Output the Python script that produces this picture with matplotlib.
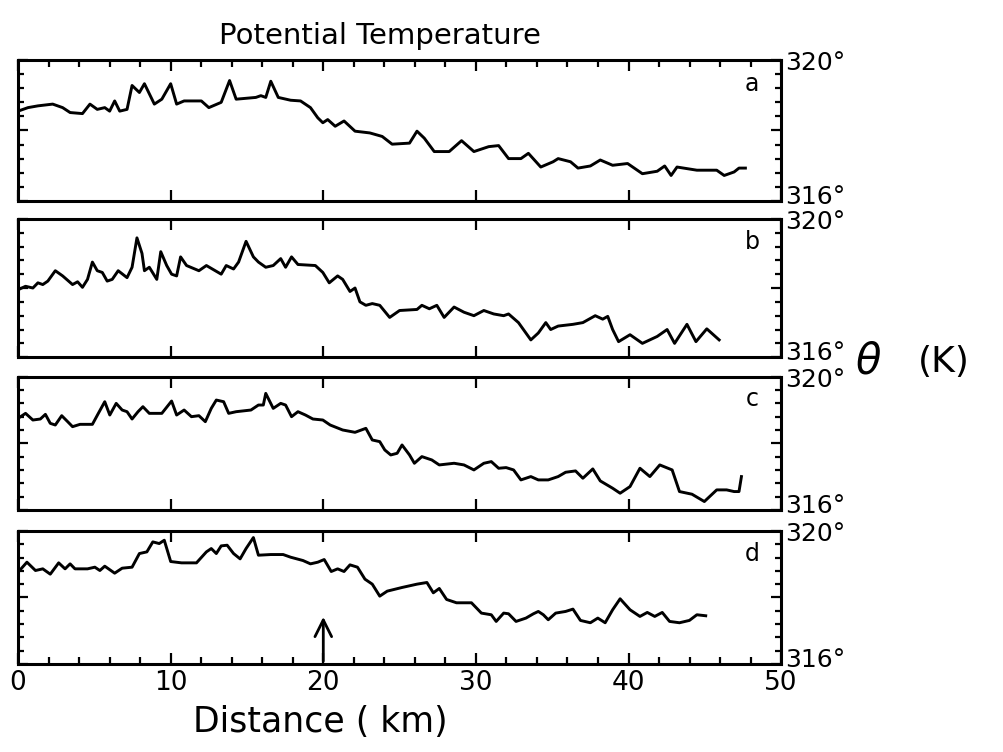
#Potential temperature along four flight legs
import numpy as np
import matplotlib.pyplot as plt
from matplotlib.ticker import MultipleLocator

#distance (km) and potential temperature (K)
km_a = [0.0, 0.65, 1.3, 2.27, 2.92, 3.41, 4.22, 4.71, 5.19, 5.68, 6.0, 6.33, 6.66, 7.14, 7.47, 7.95,
        8.28, 8.93, 9.42, 10.0, 10.39, 10.88, 12.01, 12.5, 13.31, 13.86, 14.29, 15.58, 15.91, 16.23,
        16.56, 17.05, 17.86, 18.51, 19.16, 19.64, 19.97, 20.29, 20.78, 21.36, 22.08, 23.05, 23.86,
        24.51, 25.65, 26.14, 26.62, 27.27, 28.25, 29.06, 29.87, 30.84, 31.49, 32.14, 32.95, 33.44,
        34.25, 35.06, 35.39, 36.2, 36.69, 37.5, 38.15, 38.96, 39.94, 40.91, 41.88, 42.37, 42.79,
        43.18, 44.48, 45.78, 46.27, 46.92, 47.24, 47.66]
theta_a = [318.55, 318.65, 318.70, 318.75, 318.65, 318.51, 318.48, 318.75, 318.60, 318.65, 318.55,
           318.84, 318.55, 318.60, 319.28, 319.08, 319.33, 318.75, 318.89, 319.33, 318.75, 318.84,
           318.84, 318.65, 318.80, 319.42, 318.89, 318.94, 318.99, 318.94, 319.40, 318.94, 318.86,
           318.84, 318.65, 318.36, 318.22, 318.31, 318.12, 318.27, 317.98, 317.93, 317.83, 317.61,
           317.64, 317.98, 317.78, 317.40, 317.40, 317.71, 317.40, 317.54, 317.57, 317.20, 317.20,
           317.35, 316.96, 317.11, 317.20, 317.11, 316.93, 316.99, 317.16, 317.01, 317.06, 316.77,
           316.84, 316.99, 316.72, 316.96, 316.87, 316.87, 316.72, 316.82, 316.93, 316.93]

km_b = [0.0, 0.49, 0.97, 1.30, 1.62, 1.95, 2.44, 2.92, 3.57, 3.90, 4.22, 4.55, 4.87, 5.19, 5.52,
        5.84, 6.17, 6.56, 7.14, 7.47, 7.79, 8.12, 8.28, 8.60, 9.09, 9.35, 9.74, 10.06, 10.39, 10.65,
        11.04, 11.85, 12.34, 13.31, 13.64, 14.12, 14.45, 14.94, 15.42, 15.75, 16.23, 16.72, 17.21,
        17.53, 17.92, 18.34, 19.48, 19.97, 20.39, 20.94, 21.27, 21.75, 22.08, 22.40, 22.79, 23.21,
        23.70, 24.35, 25.00, 26.14, 26.46, 26.95, 27.44, 27.92, 28.57, 29.22, 29.87, 30.52, 31.17,
        31.82, 32.14, 32.79, 33.60, 34.09, 34.58, 34.90, 35.39, 36.36, 37.01, 37.82, 38.31, 38.64,
        38.96, 39.35, 40.10, 40.91, 41.88, 42.53, 43.02, 43.83, 44.42, 45.13, 45.94]
theta_b = [317.95, 318.05, 318.00, 318.15, 318.10, 318.20, 318.50, 318.35, 318.10, 318.18, 318.02,
           318.25, 318.75, 318.50, 318.45, 318.20, 318.25, 318.50, 318.30, 318.60, 319.45, 319.00,
           318.50, 318.60, 318.25, 319.05, 318.65, 318.40, 318.35, 318.90, 318.65, 318.50, 318.65,
           318.40, 318.65, 318.55, 318.75, 319.35, 318.90, 318.75, 318.60, 318.65, 318.85, 318.60,
           318.90, 318.68, 318.65, 318.45, 318.15, 318.35, 318.25, 317.90, 318.00, 317.60, 317.50,
           317.55, 317.50, 317.15, 317.35, 317.38, 317.50, 317.40, 317.50, 317.15, 317.45, 317.30,
           317.20, 317.35, 317.25, 317.20, 317.25, 317.00, 316.50, 316.70, 317.00, 316.80, 316.90,
           316.95, 317.00, 317.20, 317.10, 317.18, 316.80, 316.45, 316.65, 316.40, 316.60, 316.80,
           316.40, 316.95, 316.45, 316.82, 316.50]

km_c = [0.0, 0.49, 0.97, 1.46, 1.79, 2.11, 2.44, 2.86, 3.25, 3.57, 4.06, 4.87, 5.26, 5.68, 6.01,
        6.43, 6.82, 7.14, 7.47, 7.86, 8.18, 8.60, 9.42, 10.06, 10.39, 10.88, 11.36, 11.85, 12.27,
        12.66, 12.99, 13.47, 13.80, 14.29, 15.26, 15.75, 16.07, 16.23, 16.72, 17.21, 17.53, 17.92,
        18.34, 18.83, 19.32, 19.97, 20.45, 21.27, 22.08, 22.79, 23.21, 23.70, 24.03, 24.42, 24.84,
        25.16, 25.65, 25.97, 26.46, 27.11, 27.60, 28.57, 29.22, 29.87, 30.52, 31.01, 31.49, 31.98,
        32.47, 32.95, 33.60, 34.09, 34.74, 35.39, 35.88, 36.53, 37.01, 37.66, 38.15, 38.96, 39.45,
        40.10, 40.75, 41.40, 42.05, 42.86, 43.34, 44.16, 44.97, 45.78, 46.43, 46.92, 47.24, 47.40]
theta_c = [318.75, 318.90, 318.70, 318.73, 318.87, 318.60, 318.55, 318.83, 318.65, 318.50, 318.57,
           318.57, 318.90, 319.25, 318.85, 319.20, 319.00, 318.95, 318.73, 318.95, 319.10, 318.90,
           318.90, 319.27, 318.85, 319.00, 318.80, 318.83, 318.65, 319.05, 319.30, 319.25, 318.90,
           318.95, 319.00, 319.15, 319.15, 319.50, 319.05, 319.20, 319.15, 318.80, 318.95, 318.85,
           318.73, 318.70, 318.55, 318.40, 318.33, 318.45, 318.10, 318.05, 317.80, 317.65, 317.70,
           317.95, 317.65, 317.40, 317.60, 317.50, 317.35, 317.40, 317.35, 317.20, 317.40, 317.45,
           317.25, 317.27, 317.20, 316.90, 317.00, 316.90, 316.90, 317.00, 317.13, 317.17, 316.95,
           317.23, 316.87, 316.65, 316.50, 316.70, 317.25, 317.00, 317.35, 317.20, 316.55, 316.47,
           316.25, 316.60, 316.60, 316.55, 316.55, 317.00]

km_d = [0.0, 0.58, 1.14, 1.62, 2.11, 2.66, 3.08, 3.41, 3.73, 4.55, 5.03, 5.36, 5.68, 6.33, 6.82,
        7.47, 7.95, 8.44, 8.83, 9.25, 9.58, 10.0, 10.71, 11.69, 12.34, 12.66, 12.99, 13.31, 13.70,
        14.12, 14.55, 14.94, 15.42, 15.75, 16.56, 17.37, 17.86, 18.67, 19.16, 19.64, 20.06, 20.52,
        20.94, 21.36, 21.75, 22.24, 22.73, 23.21, 23.70, 24.19, 25.16, 26.14, 26.79, 27.21, 27.60,
        28.08, 28.73, 29.71, 30.36, 31.01, 31.33, 31.82, 32.14, 32.63, 33.28, 33.77, 34.09, 34.42,
        34.74, 35.23, 35.88, 36.36, 36.85, 37.50, 37.99, 38.47, 38.96, 39.45, 40.10, 40.75, 41.23,
        41.72, 42.21, 42.69, 43.34, 43.99, 44.48, 45.06]
theta_d = [318.76, 319.06, 318.81, 318.86, 318.70, 319.04, 318.86, 319.01, 318.86, 318.86, 318.91,
           318.81, 318.94, 318.73, 318.88, 318.91, 319.32, 319.37, 319.67, 319.62, 319.72, 319.08,
           319.04, 319.04, 319.37, 319.47, 319.32, 319.55, 319.57, 319.32, 319.16, 319.47, 319.80,
           319.27, 319.29, 319.29, 319.21, 319.11, 319.01, 319.06, 319.14, 318.78, 318.86, 318.78,
           318.98, 318.91, 318.55, 318.40, 318.04, 318.19, 318.30, 318.40, 318.45, 318.14, 318.27,
           317.94, 317.84, 317.84, 317.53, 317.48, 317.28, 317.53, 317.51, 317.28, 317.38, 317.51,
           317.58, 317.48, 317.33, 317.53, 317.58, 317.65, 317.31, 317.24, 317.38, 317.24, 317.63,
           317.96, 317.63, 317.43, 317.55, 317.43, 317.55, 317.28, 317.24, 317.31, 317.48, 317.45]

panel_names = ['a', 'b', 'c', 'd']
y_end_labels = [(316, '316°'), (320, '320°')]
arrow_km = 20
arrow_tip = 317.5

fig = plt.figure(figsize=(10.04, 7.52), dpi=100)

#axes boxes [left, bottom, width, height] in figure fraction
boxes = [[0.018, 0.733, 0.760, 0.187],
         [0.018, 0.525, 0.760, 0.184],
         [0.018, 0.322, 0.760, 0.177],
         [0.018, 0.117, 0.760, 0.177]]
traces = [(km_a, theta_a), (km_b, theta_b), (km_c, theta_c), (km_d, theta_d)]

for i, (box, (x, y), name) in enumerate(zip(boxes, traces, panel_names)):
    ax = fig.add_axes(box)
    ax.plot(x, y, color='black', lw=2.1)
    ax.set_xlim(0, 50)
    ax.set_ylim(316, 320)
    for s in ax.spines.values():
        s.set_linewidth(2.2)

    #y ticks on both sides, no tick labels (end values are written beside the box)
    ax.set_yticks([316, 318, 320])
    ax.yaxis.set_minor_locator(MultipleLocator(0.4))
    ax.tick_params(axis='y', which='both', direction='in', left=True, right=True,
                   labelleft=False, labelright=False)
    ax.tick_params(axis='y', which='major', length=7, width=1.6)
    ax.tick_params(axis='y', which='minor', length=4, width=1.6)

    #316 sits a little above the bottom line, 320 a little below the top line
    for val, lab in y_end_labels:
        dy = 3.0 if val == 316 else -2.0
        ax.annotate(lab, xy=(1, val), xycoords=('axes fraction', 'data'),
                    xytext=(3, dy), textcoords='offset points',
                    ha='left', va='center', fontsize=18)

    #x ticks: majors every 10 km, minors every 2 km on top of a and bottom of d
    ax.set_xticks(np.arange(0, 51, 10))
    ax.xaxis.set_minor_locator(MultipleLocator(2))
    ax.tick_params(axis='x', which='major', direction='in', top=True, bottom=True,
                   length=8, width=1.6, labelsize=19, pad=4)
    ax.tick_params(axis='x', which='minor', direction='in', length=5, width=1.6,
                   top=(i == 0), bottom=(i == 3))
    if i < 3:
        ax.tick_params(axis='x', labelbottom=False)

    ax.text(0.962, 0.83, name, transform=ax.transAxes, ha='center', va='center', fontsize=17)

    if i == 3:
        ax.annotate('', xy=(arrow_km, arrow_tip), xytext=(arrow_km, 316),
                    arrowprops=dict(arrowstyle='->', lw=2.0, color='black', mutation_scale=30))

fig.text(0.378, 0.952, 'Potential Temperature', ha='center', va='center', fontsize=21)
fig.text(0.852, 0.519, r'$\theta$', ha='left', va='center', fontsize=30)
fig.text(0.914, 0.519, '(K)', ha='left', va='center', fontsize=26)
fig.text(0.319, 0.040, 'Distance ( km)', ha='center', va='center', fontsize=25)

plt.savefig('out.png', format='png', dpi=100)
